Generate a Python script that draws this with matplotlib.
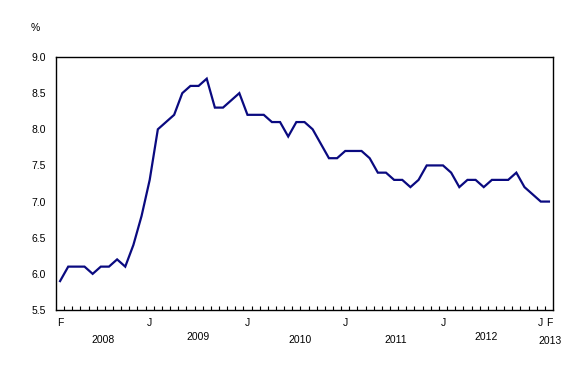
import matplotlib
matplotlib.use("Agg")
import matplotlib.pyplot as plt
from matplotlib.transforms import blended_transform_factory

plt.rcParams['font.family'] = ['Liberation Sans', 'DejaVu Sans']

# Monthly values, Feb 2008 .. Feb 2013
values = [5.9, 6.1, 6.1, 6.1, 6.0, 6.1, 6.1, 6.2, 6.1, 6.4, 6.8,
          7.3, 8.0, 8.1, 8.2, 8.5, 8.6, 8.6, 8.7, 8.3, 8.3, 8.4, 8.5,
          8.2, 8.2, 8.2, 8.1, 8.1, 7.9, 8.1, 8.1, 8.0, 7.8, 7.6, 7.6,
          7.7, 7.7, 7.7, 7.6, 7.4, 7.4, 7.3, 7.3, 7.2, 7.3, 7.5, 7.5,
          7.5, 7.4, 7.2, 7.3, 7.3, 7.2, 7.3, 7.3, 7.3, 7.4, 7.2, 7.1,
          7.0, 7.0]
month_ticks = [0, 11, 23, 35, 47, 59, 60]
month_labels = ["F", "J", "J", "J", "J", "J", "F"]
years = ["2008", "2009", "2010", "2011", "2012", "2013"]
year_x = [5.3, 16.9, 29.5, 41.2, 52.3, 60.1]
year_y = [-0.118, -0.105, -0.118, -0.118, -0.108, -0.121]
yticks = [5.5, 6.0, 6.5, 7.0, 7.5, 8.0, 8.5, 9.0]

fig = plt.figure(figsize=(5.88, 3.80), dpi=100)
ax = fig.add_axes([56/588, 1 - 310/380, 497/588, 253/380])

x = list(range(len(values)))
ax.plot(x, values, color="#0a0a80", linewidth=1.6, solid_joinstyle='miter')

ax.set_xlim(-0.5, len(values) - 0.5)
ax.set_ylim(5.5, 9.0)

ax.set_yticks(yticks)
ax.set_yticklabels([f"{v:.1f}" for v in yticks])
ax.tick_params(axis='y', length=0, pad=7.5, labelsize=7.5)

ax.set_xticks(month_ticks)
ax.set_xticklabels(month_labels)
ax.set_xticks([i + 0.5 for i in range(len(values) - 1)], minor=True)
ax.tick_params(axis='x', which='major', length=0, pad=6, labelsize=7.5)
ax.tick_params(axis='x', which='minor', direction='in', length=3, width=0.8)

for s in ax.spines.values():
    s.set_linewidth(1.0)
    s.set_color('black')

trans = blended_transform_factory(ax.transData, ax.transAxes)
for yr, xx, yy in zip(years, year_x, year_y):
    ax.text(xx, yy, yr, transform=trans, ha='center', va='center', fontsize=7.5)

fig.text(35/588, 1 - 28/380, "%", ha='center', va='center', fontsize=7.5)

fig.savefig("out.png", dpi=100)
